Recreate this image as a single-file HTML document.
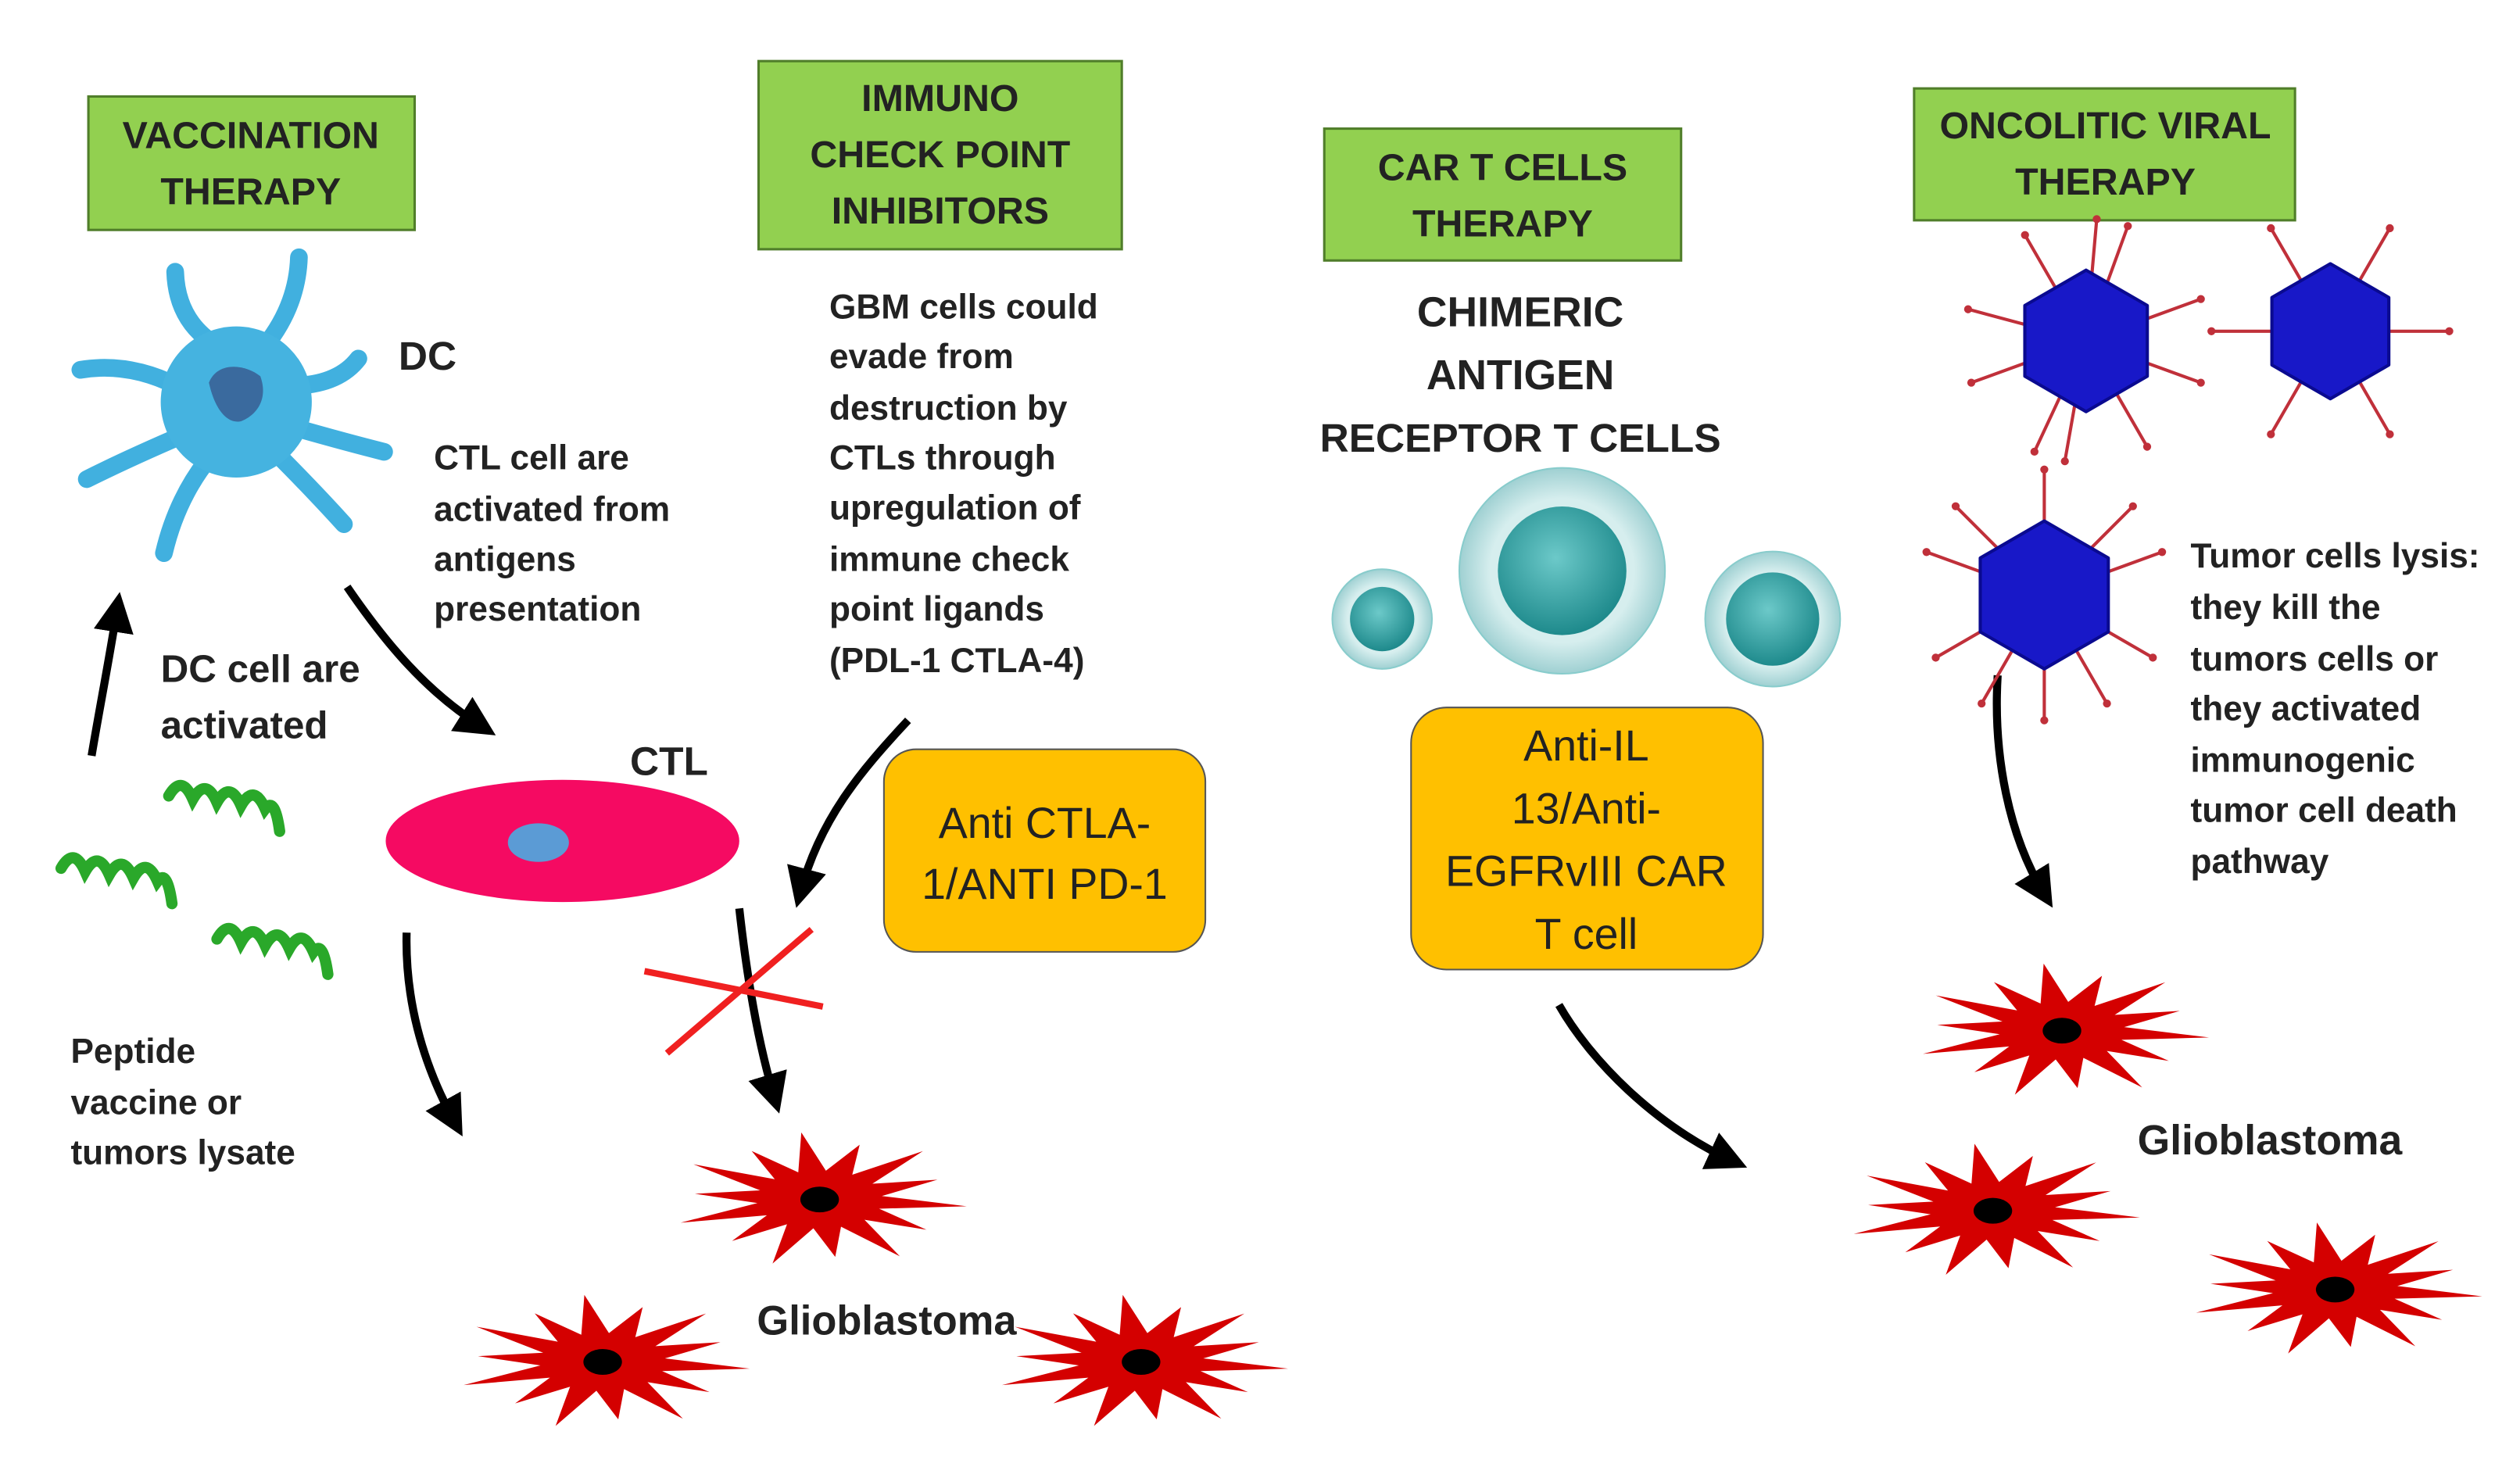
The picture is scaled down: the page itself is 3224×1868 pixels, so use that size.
<!DOCTYPE html>
<html><head><meta charset="utf-8">
<style>html,body{margin:0;padding:0;background:#fff;}svg{display:block}
text{font-family:"Liberation Sans",sans-serif;font-weight:bold;fill:#222}</style></head>
<body>
<svg id="s" width="3224" height="1868" viewBox="0 0 1568 908" preserveAspectRatio="none" xmlns="http://www.w3.org/2000/svg">
<defs>
<marker id="ah" viewBox="0 0 10 10" refX="6" refY="5" markerWidth="5" markerHeight="5" orient="auto" markerUnits="strokeWidth"><path d="M0,0 L10,5 L0,10 z" fill="#000"/></marker>
<radialGradient id="cg" cx="0.45" cy="0.4" r="0.6"><stop offset="0" stop-color="#6cc9c9"/><stop offset="1" stop-color="#1e8a8c"/></radialGradient>
<radialGradient id="cgo" cx="0.5" cy="0.5" r="0.5"><stop offset="0.7" stop-color="#d6eeee"/><stop offset="1" stop-color="#9fd0d2"/></radialGradient>
</defs>
<g fill="#92d050" stroke="#507e2a" stroke-width="1.5">
<rect x="55" y="60" width="203" height="83"/>
<rect x="472" y="38" width="226" height="117"/>
<rect x="824" y="80" width="222" height="82"/>
<rect x="1191" y="55" width="237" height="82"/>
</g>
<g font-size="23.5" text-anchor="middle">
<text x="156" y="92">VACCINATION</text><text x="156" y="127">THERAPY</text>
<text x="585" y="69">IMMUNO</text><text x="585" y="104">CHECK POINT</text><text x="585" y="139">INHIBITORS</text>
<text x="935" y="112">CAR T CELLS</text><text x="935" y="147">THERAPY</text>
<text x="1310" y="86">ONCOLITIC VIRAL</text><text x="1310" y="121">THERAPY</text>
</g>
<rect x="550" y="466" width="200" height="126" rx="20" fill="#ffc000" stroke="#555" stroke-width="1"/>
<rect x="878" y="440" width="219" height="163" rx="22" fill="#ffc000" stroke="#555" stroke-width="1"/>
<g font-size="27" text-anchor="middle">
<text x="650" y="521" style="font-weight:normal">Anti CTLA-</text><text x="650" y="559" style="font-weight:normal">1/ANTI PD-1</text>
<text x="987" y="473" style="font-weight:normal">Anti-IL</text><text x="987" y="512" style="font-weight:normal">13/Anti-</text><text x="987" y="551" style="font-weight:normal">EGFRvIII CAR</text><text x="987" y="590" style="font-weight:normal">T cell</text>
</g>
<g font-size="21.5">
<text x="248" y="230" font-size="25">DC</text>
<text x="270" y="292">CTL cell are</text><text x="270" y="324">activated from</text><text x="270" y="355">antigens</text><text x="270" y="386">presentation</text>
<text x="100" y="424" font-size="24">DC cell are</text><text x="100" y="459" font-size="24">activated</text>
<text x="392" y="482" font-size="25">CTL</text>
<text x="44" y="661">Peptide</text><text x="44" y="693">vaccine or</text><text x="44" y="724">tumors lysate</text>
<text x="516" y="198">GBM cells could</text><text x="516" y="229">evade from</text><text x="516" y="261">destruction by</text><text x="516" y="292">CTLs through</text><text x="516" y="323">upregulation of</text><text x="516" y="355">immune check</text><text x="516" y="386">point ligands</text><text x="516" y="418">(PDL-1 CTLA-4)</text>
<text x="946" y="203" font-size="26" text-anchor="middle">CHIMERIC</text><text x="946" y="242" font-size="26" text-anchor="middle">ANTIGEN</text><text x="946" y="281" font-size="25" text-anchor="middle">RECEPTOR T CELLS</text>
<text x="1363" y="353">Tumor cells lysis:</text><text x="1363" y="385">they kill the</text><text x="1363" y="417">tumors cells or</text><text x="1363" y="448">they activated</text><text x="1363" y="480">immunogenic</text><text x="1363" y="511">tumor cell death</text><text x="1363" y="543">pathway</text>
<text x="471" y="830" font-size="25.5">Glioblastoma</text>
<text x="1330" y="718" font-size="26">Glioblastoma</text>
</g>
<!-- DC cell -->
<g stroke="#41b0df" stroke-width="11" fill="none" stroke-linecap="round">
<path d="M135,215 Q110,200 109,169"/>
<path d="M165,215 Q185,190 186,160"/>
<path d="M180,240 Q210,240 223,223"/>
<path d="M180,265 Q215,275 239,281"/>
<path d="M170,280 Q195,305 214,326"/>
<path d="M130,285 Q110,310 102,344"/>
<path d="M115,270 Q80,285 54,298"/>
<path d="M110,240 Q80,225 50,230"/>
</g>
<circle cx="147" cy="250" r="47" fill="#45b3e0"/>
<path d="M130,238 C135,225 152,226 162,234 C167,248 160,258 150,262 C140,264 133,252 130,238Z" fill="#3a6a9e"/>
<ellipse cx="350" cy="523" rx="110" ry="38" fill="#f50a62"/>
<ellipse cx="335" cy="524" rx="19" ry="12" fill="#5b9bd5"/>
<g stroke="#2aa82a" stroke-width="7" fill="none" stroke-linecap="round">
<path d="M105,495 q8,-14 15,2 q8,-14 15,2 q8,-14 15,2 q8,-14 15,2 q6,-8 9,14"/>
<path d="M38,540 q8,-14 15,2 q8,-14 15,2 q8,-14 15,2 q8,-14 15,2 q6,-8 9,14"/>
<path d="M135,584 q8,-14 15,2 q8,-14 15,2 q8,-14 15,2 q8,-14 15,2 q6,-8 9,14"/>
</g>
<circle cx="860" cy="385" r="31" fill="url(#cgo)" stroke="#8cc" stroke-width="1"/><circle cx="860" cy="385" r="20" fill="url(#cg)"/>
<circle cx="972" cy="355" r="64" fill="url(#cgo)" stroke="#8cc" stroke-width="1"/><circle cx="972" cy="355" r="40" fill="url(#cg)"/>
<circle cx="1103" cy="385" r="42" fill="url(#cgo)" stroke="#8cc" stroke-width="1"/><circle cx="1103" cy="385" r="29" fill="url(#cg)"/>
<g stroke="#000" stroke-width="5" fill="none" marker-end="url(#ah)">
<path d="M57,470 C62,440 68,410 73,378"/>
<path d="M216,365 C240,400 265,430 300,452"/>
<path d="M253,580 C252,620 262,660 283,698"/>
<path d="M565,448 C535,480 510,510 498,555"/>
<path d="M460,565 C465,610 472,650 482,683"/>
<path d="M970,625 C990,660 1030,700 1078,722"/>
<path d="M1243,420 C1240,470 1250,520 1272,556"/>
</g>
<g stroke="#f02020" stroke-width="4"><line x1="401" y1="604" x2="512" y2="626"/><line x1="415" y1="655" x2="505" y2="578"/></g>
<g id="stars"></g><g id="virus"></g>
</svg>
<script>
var ns="http://www.w3.org/2000/svg";
function star(cx,cy){var p=[],n=14;for(var i=0;i<2*n;i++){var a=i*Math.PI/n+0.1;var r=i%2?0.5:1;var rx=(i%4==0?92:78)*r,ry=(i%4==0?42:36)*r;p.push((cx+rx*Math.cos(a)).toFixed(1)+","+(cy+ry*Math.sin(a)).toFixed(1));}
var g=document.getElementById("stars");var e=document.createElementNS(ns,"polygon");e.setAttribute("points",p.join(" "));e.setAttribute("fill","#d40000");g.appendChild(e);
var c=document.createElementNS(ns,"ellipse");c.setAttribute("cx",cx);c.setAttribute("cy",cy);c.setAttribute("rx",12);c.setAttribute("ry",8);c.setAttribute("fill","#000");g.appendChild(c);}
[[510,746],[375,847],[710,847],[1283,641],[1240,753],[1453,802]].forEach(function(s){star(s[0],s[1]);});
function virus(cx,cy,r,ang){var g=document.getElementById("virus");
for(var k=0;k<ang.length;k++){var a=ang[k]*Math.PI/180;var x2=cx+(r+32)*Math.cos(a),y2=cy+(r+32)*Math.sin(a);
var l=document.createElementNS(ns,"line");l.setAttribute("x1",cx);l.setAttribute("y1",cy);l.setAttribute("x2",x2);l.setAttribute("y2",y2);l.setAttribute("stroke","#c0303a");l.setAttribute("stroke-width",2);g.appendChild(l);
var d=document.createElementNS(ns,"circle");d.setAttribute("cx",x2);d.setAttribute("cy",y2);d.setAttribute("r",2.5);d.setAttribute("fill","#c0303a");g.appendChild(d);}
var p=[];for(var i=0;i<6;i++){var a=(i*60+30)*Math.PI/180;p.push((cx+r*Math.cos(a))+","+(cy+r*Math.sin(a)));}
var h=document.createElementNS(ns,"polygon");h.setAttribute("points",p.join(" "));h.setAttribute("fill","#1818c8");h.setAttribute("stroke","#0a0a90");h.setAttribute("stroke-width",2);h.setAttribute("stroke-linejoin","round");g.appendChild(h);}
virus(1298,212,44,[-120,-85,-70,-20,20,60,100,115,160,195]);
virus(1450,206,42,[-120,-60,0,60,120,180]);
virus(1272,370,46,[-90,-135,-45,-20,30,60,90,120,150,200]);
</script>
</body></html>
